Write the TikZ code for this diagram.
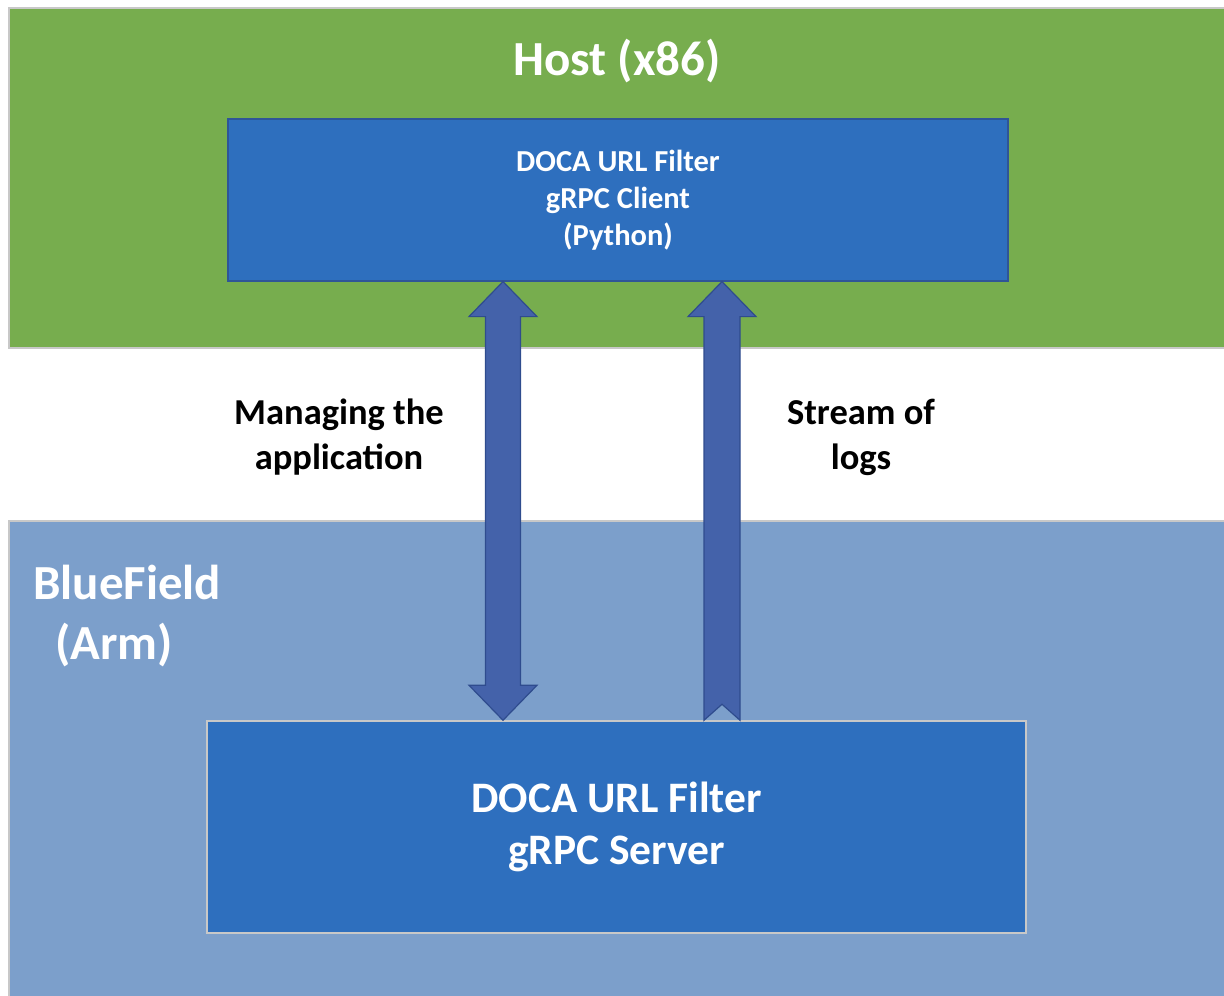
\documentclass[tikz,border=0pt]{standalone}
\usepackage{fontspec}
\setmainfont{Carlito}
\usetikzlibrary{calc}

\definecolor{hostgreen}{HTML}{77AD4E}
\definecolor{armblue}{HTML}{7C9FCB}
\definecolor{boxblue}{HTML}{2E6FBE}
\definecolor{boxedge}{HTML}{2F5597}
\definecolor{arrowblue}{HTML}{4462AA}
\definecolor{arrowedge}{HTML}{2F4C8E}
\definecolor{zoneedge}{HTML}{C8C8C8}

\tikzset{
  zone/.style={draw=zoneedge, line width=1.5pt},
  appbox/.style={fill=boxblue, text=white, font=\bfseries, align=center, inner sep=0pt},
  blockarrow/.style={fill=arrowblue, draw=arrowedge, line width=1.2pt, line join=miter},
  caption/.style={font=\bfseries\fontsize{36.5}{45}\selectfont, align=center}
}

\begin{document}
\begin{tikzpicture}[x=1pt,y=-1pt]
        \useasboundingbox (0,0) rectangle (1224,996);
        % zones
        \draw[zone, fill=hostgreen] (9,8) rectangle (1240,348);
        \draw[zone, fill=armblue] (9,521) rectangle (1240,1010);
        \node[text=white, font=\bfseries\fontsize{49}{60}\selectfont] (hostlbl) at (617,61) {Host (x86)};
        \node[text=white, font=\bfseries\fontsize{49}{60}\selectfont, align=left, anchor=west, inner sep=0pt] (armlbl) at (33,616) {BlueField\\\hspace*{0.45em}(Arm)};
        % boxes
        \node[appbox, draw=boxedge, line width=1.2pt, minimum width=780, minimum height=162,
              font=\bfseries\fontsize{30.5}{37}\selectfont] (client) at (618,200)
              {\raisebox{-2pt}{DOCA URL Filter}\\\raisebox{-2pt}{gRPC Client}\\\raisebox{-2pt}{(Python)}};
        \node[appbox, draw=zoneedge, line width=1.5pt, minimum width=819, minimum height=212,
              font=\bfseries\fontsize{43.5}{52}\selectfont] (server) at (616.5,827)
              {\raisebox{-3pt}{DOCA URL Filter}\\\raisebox{-3pt}{gRPC Server}};
        % arrows
        \coordinate (mgtop) at (503,0 |- client.south);
        \coordinate (mgbot) at (503,0 |- server.north);
        \coordinate (lgtop) at (722,0 |- client.south);
        \coordinate (lgbot) at (722,0 |- server.north);
        \draw[blockarrow] (mgtop) -- ($(mgtop)+(34,35)$) -- ($(mgtop)+(17.5,35)$)
            -- ($(mgbot)+(17.5,-35)$) -- ($(mgbot)+(34,-35)$) -- (mgbot)
            -- ($(mgbot)+(-34,-35)$) -- ($(mgbot)+(-17.5,-35)$)
            -- ($(mgtop)+(-17.5,35)$) -- ($(mgtop)+(-34,35)$) -- cycle;
        \draw[blockarrow] (lgtop) -- ($(lgtop)+(34,35)$) -- ($(lgtop)+(18,35)$)
            -- ($(lgbot)+(18,0)$) -- ($(lgbot)+(0,-16)$) -- ($(lgbot)+(-18,0)$)
            -- ($(lgtop)+(-18,35)$) -- ($(lgtop)+(-34,35)$) -- cycle;
        % labels
        \node[caption] (mgmt) at (339,437) {Managing the\\application};
        \node[caption] (logs) at (861,437) {Stream of\\logs};
    \end{tikzpicture}
\end{document}
